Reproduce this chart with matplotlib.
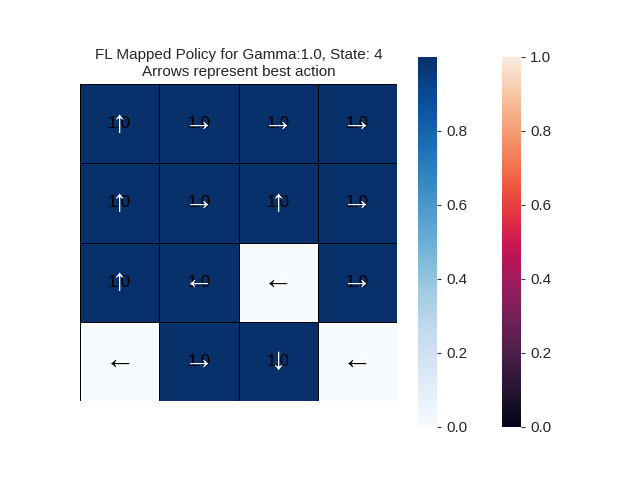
import numpy as np
import matplotlib
matplotlib.use("Agg")
import matplotlib.pyplot as plt
import seaborn as sns

sns.set_theme(style="white")
plt.rcParams["font.family"] = ["Liberation Sans", "DejaVu Sans"]

values = np.array([
    [1, 1, 1, 1],
    [1, 1, 1, 1],
    [1, 1, 0, 1],
    [0, 1, 1, 0],
], dtype=float)
arrows = [
    ["↑", "→", "→", "→"],
    ["↑", "→", "↑", "→"],
    ["↑", "←", "←", "→"],
    ["←", "→", "↓", "←"],
]

fig = plt.figure(figsize=(6.4, 4.8), dpi=100)
ax = fig.add_axes([80 / 640, 79 / 480, 317 / 640, 317 / 480])
cax1 = fig.add_axes([418 / 640, 53 / 480, 19 / 640, 370 / 480])
cax2 = fig.add_axes([502 / 640, 53 / 480, 19 / 640, 370 / 480])

sns.heatmap(values * 0.999, ax=ax, cmap="Blues", vmin=0, vmax=0.999, cbar_ax=cax1,
            linewidths=0.5, linecolor="black", xticklabels=False, yticklabels=False,
            square=True)

for i in range(4):
    for j in range(4):
        dark = values[i, j] > 0.5
        ax.text(j + 0.5, i + 0.5, "1.0" if dark else "0.0", ha="center", va="center",
                color="black" if dark else "white", fontsize=12)
        ax.text(j + 0.5, i + 0.5, arrows[i][j], ha="center", va="center",
                color="white" if dark else "black", fontsize=22,
                family=["Liberation Sans", "DejaVu Sans"])

sm = plt.cm.ScalarMappable(cmap="rocket", norm=plt.Normalize(0, 1))
cb2 = fig.colorbar(sm, cax=cax2)
cb2.outline.set_visible(False)
for c in (cax1, cax2):
    c.tick_params(length=3, width=0.8, color="#333333", labelsize=11)

ax.set_title("FL Mapped Policy for Gamma:1.0, State: 4\nArrows represent best action", fontsize=11)
fig.savefig("out.png", dpi=100)
